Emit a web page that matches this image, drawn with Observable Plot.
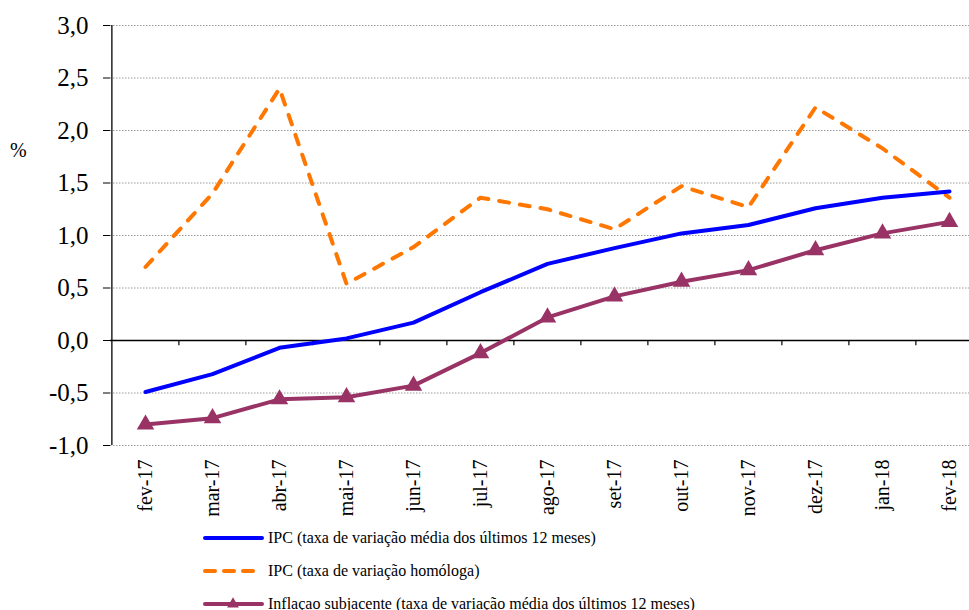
<!DOCTYPE html>
<html>
<head>
<meta charset="utf-8">
<script src="https://cdn.jsdelivr.net/npm/d3@7"></script>
<script src="https://cdn.jsdelivr.net/npm/@observablehq/plot@0.6"></script>
<style>
  html, body { margin: 0; padding: 0; background: #fff; }
  #wrap { position: relative; width: 969px; height: 610px; font-family: "Liberation Serif", "Times New Roman", serif; color: #000; }
  #pct { position: absolute; left: 10px; top: 139px; font-size: 20px; }
  #legend { position: absolute; left: 202px; top: 521px; font-size: 16px; }
  .row { display: flex; align-items: center; height: 33px; white-space: nowrap; }
  .row svg { margin-right: 4px; }
</style>
</head>
<body>
<div id="wrap">
  <div id="chart"></div>
  <div id="pct">%</div>
  <div id="legend"></div>
</div>
<script>
const categories = ["fev-17","mar-17","abr-17","mai-17","jun-17","jul-17","ago-17","set-17","out-17","nov-17","dez-17","jan-18","fev-18"];
const ipcMedia = [-0.49,-0.32,-0.07,0.02,0.17,0.46,0.73,0.88,1.02,1.10,1.26,1.36,1.42];
const ipcHomologa = [0.70,1.40,2.40,0.54,0.89,1.36,1.25,1.06,1.47,1.27,2.22,1.83,1.36];
const subjacente = [-0.80,-0.74,-0.56,-0.54,-0.43,-0.12,0.22,0.42,0.56,0.67,0.86,1.02,1.13];
const yTicks = [-1,-0.5,0,0.5,1,1.5,2,2.5,3];
const seriesNames = [
  "IPC (taxa de variação média dos últimos 12 meses)",
  "IPC (taxa de variação homóloga)",
  "Inflaçao subjacente (taxa de variação média dos últimos 12 meses)"
];
const colors = ["#0000ff", "#ff7700", "#993366"];

const rows = categories.map((c, i) => ({mes: c, media: ipcMedia[i], homologa: ipcHomologa[i], sub: subjacente[i]}));

const xRange = [110, 984];
const step = (xRange[1] - xRange[0]) / categories.length;

const chart = Plot.plot({
  width: 969,
  height: 522,
  marginLeft: 110,
  marginRight: 0,
  marginTop: 25,
  marginBottom: 77,
  style: {fontFamily: "'Liberation Serif', 'Times New Roman', serif", color: "#000", background: "#fff", overflow: "visible"},
  x: {type: "point", domain: categories, range: xRange, padding: 0.5},
  y: {domain: [-1, 3]},
  marks: [
    Plot.ruleY(yTicks.filter(d => d !== 0), {stroke: "#9a9a9a", strokeDasharray: "1.5,1.5", strokeWidth: 1}),
    Plot.ruleY([0], {stroke: "#000", strokeWidth: 1.3}),
    Plot.ruleX(categories.slice(1), {x: d => d, dx: -step / 2, y1: 0, y2: -0.05, stroke: "#000", strokeWidth: 1.2}),
    Plot.ruleX([categories[0]], {x: d => d, dx: -step / 2, y1: -1, y2: 3, stroke: "#000", strokeWidth: 1.3}),
    Plot.axisY({ticks: yTicks, tickSize: 7, tickPadding: 15, fontSize: 25, label: null,
      tickFormat: d => d.toFixed(1).replace(".", ",")}),
    Plot.axisX({tickRotate: -90, tickSize: 0, tickPadding: 14, fontSize: 20, label: null}),
    Plot.line(rows, {x: "mes", y: "homologa", stroke: colors[1], strokeWidth: 4, strokeDasharray: "10,11", strokeLinecap: "round"}),
    Plot.line(rows, {x: "mes", y: "media", stroke: colors[0], strokeWidth: 4}),
    Plot.line(rows, {x: "mes", y: "sub", stroke: colors[2], strokeWidth: 4}),
    Plot.dot(rows, {x: "mes", y: "sub", symbol: "triangle", r: 6.5, fill: colors[2], stroke: "none"})
  ]
});
document.getElementById("chart").appendChild(chart);

// Legend
const legend = document.getElementById("legend");
seriesNames.forEach((name, i) => {
  const row = document.createElement("div");
  row.className = "row";
  const ns = "http://www.w3.org/2000/svg";
  const svg = document.createElementNS(ns, "svg");
  svg.setAttribute("width", 62);
  svg.setAttribute("height", 14);
  const line = document.createElementNS(ns, "line");
  line.setAttribute("x1", 3); line.setAttribute("x2", 60);
  line.setAttribute("y1", 7); line.setAttribute("y2", 7);
  line.setAttribute("stroke", colors[i]);
  line.setAttribute("stroke-width", 4);
  if (i === 1) { line.setAttribute("stroke-dasharray", "10,9"); }
  line.setAttribute("stroke-linecap", "round");
  svg.appendChild(line);
  if (i === 2) {
    const tri = document.createElementNS(ns, "path");
    tri.setAttribute("d", d3.symbol(d3.symbolTriangle, 60)());
    tri.setAttribute("transform", "translate(31,7)");
    tri.setAttribute("fill", colors[i]);
    svg.appendChild(tri);
  }
  row.appendChild(svg);
  const span = document.createElement("span");
  span.textContent = name;
  row.appendChild(span);
  legend.appendChild(row);
});
</script>
</body>
</html>
